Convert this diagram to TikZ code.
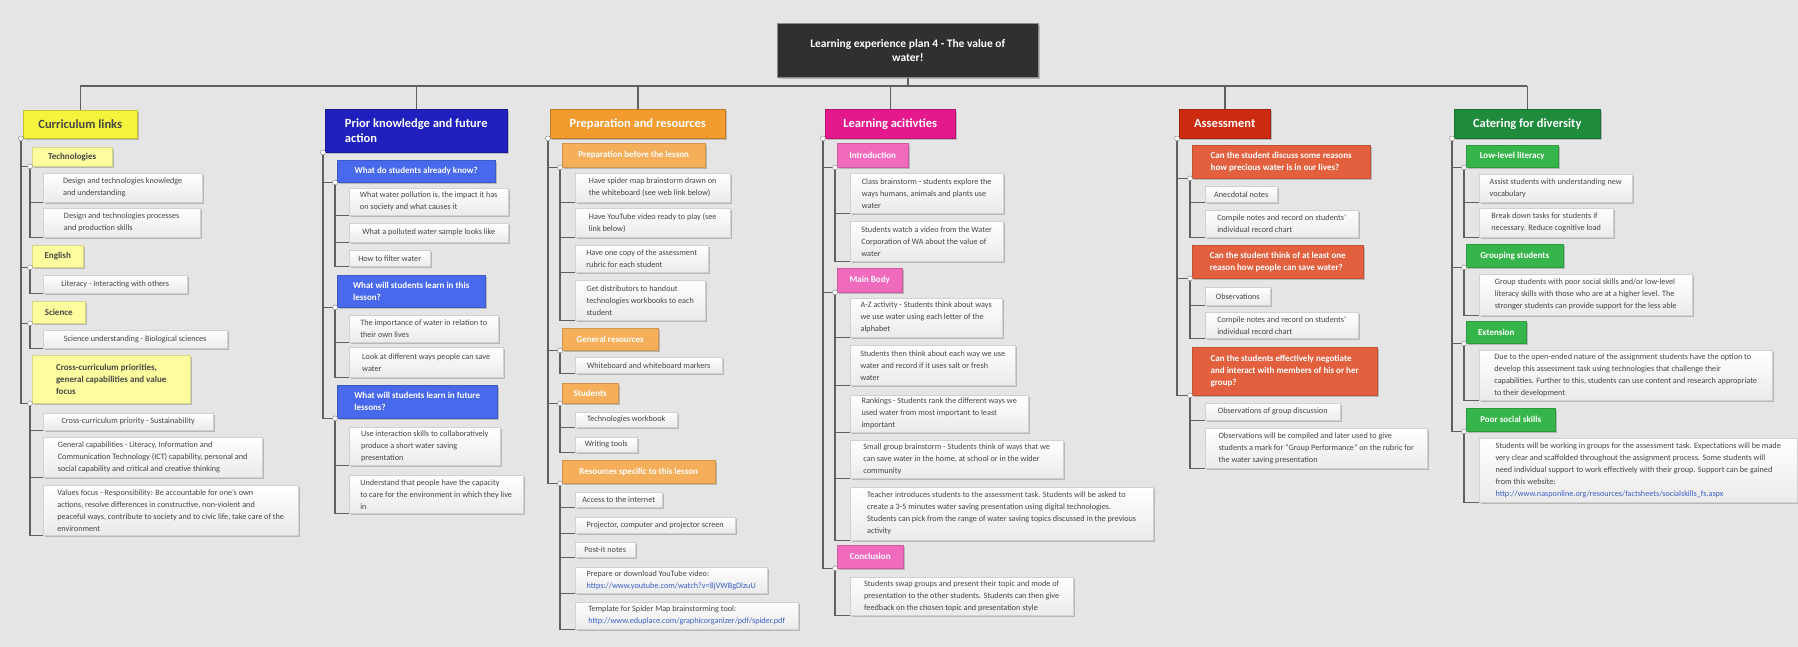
\documentclass[tikz,border=0pt]{standalone}
\usepackage{fontspec}
\setmainfont{Carlito}
\usetikzlibrary{shadows}
\definecolor{bgc}{RGB}{229,229,229}
\definecolor{txt}{RGB}{70,70,70}
\definecolor{lines}{RGB}{95,95,95}
\definecolor{linkc}{RGB}{60,95,200}
\definecolor{ttl}{RGB}{48,48,48}
\definecolor{yel0}{RGB}{244,244,60}
\definecolor{yel1}{RGB}{253,253,160}
\definecolor{blu0}{RGB}{32,32,190}
\definecolor{blu1}{RGB}{72,105,236}
\definecolor{org0}{RGB}{242,155,46}
\definecolor{org1}{RGB}{245,175,90}
\definecolor{pnk0}{RGB}{229,25,140}
\definecolor{pnk1}{RGB}{240,106,190}
\definecolor{red0}{RGB}{204,43,16}
\definecolor{red1}{RGB}{227,96,63}
\definecolor{grn0}{RGB}{30,140,59}
\definecolor{grn1}{RGB}{54,181,74}
\tikzset{
  base/.style={anchor=north west, align=left, inner xsep=5pt, inner ysep=2pt,
    drop shadow={shadow xshift=1.5pt, shadow yshift=-1.5pt, fill=black, opacity=0.2}},
  leaf/.style={base, draw=black!18, line width=0.4pt, top color=white, bottom color=black!8,
    text=txt, font=\fontsize{8.2}{12}\selectfont},
  lvone/.style={base, fill=#1, draw=#1!85!black, line width=0.4pt, text=white,
    font=\fontsize{9}{12}\selectfont\bfseries},
  lvzero/.style={base, fill=#1, draw=#1!80!black, line width=0.5pt, text=white,
    font=\fontsize{12.5}{15}\selectfont\bfseries},
  titlebox/.style={base, align=center, fill=ttl, draw=black!45, line width=0.6pt, text=white,
    font=\fontsize{11.5}{14}\selectfont\bfseries},
  conn/.style={draw=lines, line width=1.5pt},
  knob/.style={fill=white, draw=black!45, line width=0.5pt},
}
\newcommand\Nd[7]{\node[#1,minimum width=#5pt,minimum height=#6pt] (#2) at (#3,#4) {#7};}
\begin{document}
\begin{tikzpicture}[x=1pt,y=-1pt]
\fill[bgc] (0,0) rectangle (1798,647);
\useasboundingbox (0,0) rectangle (1798,647);

% title
\Nd{titlebox}{title}{777}{23}{261}{54}{Learning experience plan 4 - The value of\\water!}

% column 1
\Nd{lvzero=yel0,text=txt}{c1}{23}{110}{114}{28}{Curriculum links}
\Nd{lvone=yel1,text=txt}{c1a}{32}{147}{80}{19}{Technologies}
\Nd{leaf}{c1a1}{43}{173}{159}{29}{Design and technologies knowledge\\and understanding}
\Nd{leaf}{c1a2}{43}{208}{157}{29}{Design and technologies processes\\and production skills}
\Nd{lvone=yel1,text=txt}{c1b}{32}{245}{51}{22}{English}
\Nd{leaf}{c1b1}{43}{275}{144}{18}{Literacy - Interacting with others}
\Nd{lvone=yel1,text=txt}{c1c}{32}{301}{53}{22}{Science}
\Nd{leaf}{c1c1}{43}{330}{184}{18}{Science understanding - Biological sciences}
\Nd{lvone=yel1,text=txt}{c1d}{32}{355}{158}{48}{Cross-curriculum priorities,\\general capabilities and value\\focus}
\Nd{leaf}{c1d1}{43}{413}{170}{17}{Cross-curriculum priority - Sustainability}
\Nd{leaf}{c1d2}{43}{437}{219}{40}{General capabilities - Literacy, Information and\\Communication Technology (ICT) capability, personal and\\social capability and critical and creative thinking}
\Nd{leaf}{c1d3}{43}{485}{255}{50}{Values focus - Responsibility: Be accountable for one's own\\actions, resolve differences in constructive, non-violent and\\peaceful ways, contribute to society and to civic life, take care of the\\environment}

% column 2
\Nd{lvzero=blu0}{c2}{325}{109}{182}{43}{Prior knowledge and future\\action}
\Nd{lvone=blu1}{c2a}{337}{160}{158}{22}{What do students already know?}
\Nd{leaf}{c2a1}{349}{188}{159}{27}{What water pollution is, the impact it has\\on society and what causes it}
\Nd{leaf}{c2a2}{349}{223}{159}{19}{What a polluted water sample looks like}
\Nd{leaf}{c2a3}{349}{250}{81}{16}{How to filter water}
\Nd{lvone=blu1}{c2b}{337}{275}{148}{32}{What will students learn in this\\lesson?}
\Nd{leaf}{c2b1}{349}{315}{149}{27}{The importance of water in relation to\\their own lives}
\Nd{leaf}{c2b2}{349}{347}{154}{30}{Look at different ways people can save\\water}
\Nd{lvone=blu1}{c2c}{337}{385}{160}{33}{What will students learn in future\\lessons?}
\Nd{leaf}{c2c1}{349}{427}{151}{38}{Use interaction skills to collaboratively\\produce a short water saving\\presentation}
\Nd{leaf}{c2c2}{349}{475}{174}{38}{Understand that people have the capacity\\to care for the environment in which they live\\in}

% column 3
\Nd{lvzero=org0}{c3}{550}{109}{175}{29}{Preparation and resources}
\Nd{lvone=org1}{c3a}{562}{143}{143}{24}{Preparation before the lesson}
\Nd{leaf}{c3a1}{575}{173}{155}{29}{Have spider map brainstorm drawn on\\the whiteboard (see web link below)}
\Nd{leaf}{c3a2}{575}{208}{155}{29}{Have YouTube video ready to play (see\\link below)}
\Nd{leaf}{c3a3}{575}{245}{133}{27}{Have one copy of the assessment\\rubric for each student}
\Nd{leaf}{c3a4}{575}{280}{130}{40}{Get distributors to handout\\technologies workbooks to each\\student}
\Nd{lvone=org1}{c3b}{562}{328}{96}{22}{General resources}
\Nd{leaf}{c3b1}{575}{357}{147}{16}{Whiteboard and whiteboard markers}
\Nd{lvone=org1}{c3c}{562}{383}{56}{20}{Students}
\Nd{leaf}{c3c1}{575}{412}{102}{15}{Technologies workbook}
\Nd{leaf}{c3c2}{575}{437}{62}{15}{Writing tools}
\Nd{lvone=org1}{c3d}{562}{460}{153}{23}{Resources specific to this lesson}
\Nd{leaf}{c3d1}{575}{492}{87}{15}{Access to the internet}
\Nd{leaf}{c3d2}{575}{517}{160}{16}{Projector, computer and projector screen}
\Nd{leaf}{c3d3}{575}{542}{60}{15}{Post-it notes}
\Nd{leaf}{c3d4}{575}{567}{192}{26}{Prepare or download YouTube video:\\{\color{linkc}https://www.youtube.com/watch?v=8jVWBgDlzuU}}
\Nd{leaf}{c3d5}{575}{602}{223}{27}{Template for Spider Map brainstorming tool:\\{\color{linkc}http://www.eduplace.com/graphicorganizer/pdf/spider.pdf}}

% column 4
\Nd{lvzero=pnk0}{c4}{825}{109}{130}{29}{Learning acitivties}
\Nd{lvone=pnk1}{c4a}{837}{143}{71}{24}{Introduction}
\Nd{leaf}{c4a1}{850}{173}{153}{40}{Class brainstorm - students explore the\\ways humans, animals and plants use\\water}
\Nd{leaf}{c4a2}{850}{221}{153}{40}{Students watch a video from the Water\\Corporation of WA about the value of\\water}
\Nd{lvone=pnk1}{c4b}{837}{268}{65}{24}{Main Body}
\Nd{leaf}{c4b1}{850}{298}{152}{39}{A-Z activity - Students think about ways\\we use water using each letter of the\\alphabet}
\Nd{leaf}{c4b2}{850}{345}{165}{40}{Students then think about each way we use\\water and record if it uses salt or fresh\\water}
\Nd{leaf}{c4b3}{850}{395}{178}{37}{Rankings - Students rank the different ways we\\used water from most important to least\\important}
\Nd{leaf}{c4b4}{850}{440}{213}{38}{Small group brainstorm - Students think of ways that we\\can save water in the home, at school or in the wider\\community}
\Nd{leaf}{c4b5}{850}{487}{303}{53}{Teacher introduces students to the assessment task. Students will be asked to\\create a 3-5 minutes water saving presentation using digital technologies.\\Students can pick from the range of water saving topics discussed in the previous\\activity}
\Nd{lvone=pnk1}{c4c}{837}{545}{66}{23}{Conclusion}
\Nd{leaf}{c4c1}{850}{577}{223}{38}{Students swap groups and present their topic and mode of\\presentation to the other students. Students can then give\\feedback on the chosen topic and presentation style}

% column 5
\Nd{lvzero=red0}{c5}{1179}{109}{91}{29}{Assessment}
\Nd{lvone=red1}{c5a}{1192}{145}{178}{33}{Can the student discuss some reasons\\how precious water is in our lives?}
\Nd{leaf}{c5a1}{1205}{186}{72}{16}{Anecdotal notes}
\Nd{leaf}{c5a2}{1205}{210}{153}{27}{Compile notes and record on students'\\individual record chart}
\Nd{lvone=red1}{c5b}{1192}{245}{171}{33}{Can the student think of at least one\\reason how people can save water?}
\Nd{leaf}{c5b1}{1205}{287}{65}{18}{Observations}
\Nd{leaf}{c5b2}{1205}{312}{153}{26}{Compile notes and record on students'\\individual record chart}
\Nd{lvone=red1}{c5c}{1192}{347}{185}{48}{Can the students effectively negotiate\\and interact with members of his or her\\group?}
\Nd{leaf}{c5c1}{1205}{403}{135}{17}{Observations of group discussion}
\Nd{leaf}{c5c2}{1205}{428}{222}{40}{Observations will be compiled and later used to give\\students a mark for ``Group Performance'' on the rubric for\\the water saving presentation}

% column 6
\Nd{lvzero=grn0}{c6}{1454}{109}{146}{29}{Catering for diversity}
\Nd{lvone=grn1}{c6a}{1466}{145}{92}{22}{Low-level literacy}
\Nd{leaf}{c6a1}{1479}{174}{153}{28}{Assist students with understanding new\\vocabulary}
\Nd{leaf}{c6a2}{1479}{208}{134}{29}{Break down tasks for students if\\necessary. Reduce cognitive load}
\Nd{lvone=grn1}{c6b}{1466}{244}{97}{23}{Grouping students}
\Nd{leaf}{c6b1}{1479}{274}{213}{41}{Group students with poor social skills and/or low-level\\literacy skills with those who are at a higher level. The\\stronger students can provide support for the less able}
\Nd{lvone=grn1}{c6c}{1466}{321}{60}{22}{Extension}
\Nd{leaf}{c6c1}{1479}{350}{293}{50}{Due to the open-ended nature of the assignment students have the option to\\develop this assessment task using technologies that challenge their\\capabilities. Further to this, students can use content and research appropriate\\to their development}
\Nd{lvone=grn1}{c6d}{1466}{408}{89}{23}{Poor social skills}
\Nd{leaf}{c6d1}{1479}{438}{318}{64}{Students will be working in groups for the assessment task. Expectations will be made\\very clear and scaffolded throughout the assignment process. Some students will\\need individual support to work effectively with their group. Support can be gained\\from this website:\\{\color{linkc}http://www.nasponline.org/resources/factsheets/socialskills\_fs.aspx}}

% trunk
\coordinate (bar) at (907,86);
\draw[conn] (title.south) -- (title.south |- bar);
\draw[conn] (c1.north |- bar) -- (c6.north |- bar);
\foreach \n in {c1,c2,c3,c4,c5,c6} \draw[conn] (\n.north) -- (\n.north |- bar);

% branches
\foreach \p/\c in {c1/c1a,c1/c1b,c1/c1c,c1/c1d,c1a/c1a1,c1a/c1a2,c1b/c1b1,c1c/c1c1,c1d/c1d1,c1d/c1d2,c1d/c1d3,
  c2/c2a,c2/c2b,c2/c2c,c2a/c2a1,c2a/c2a2,c2a/c2a3,c2b/c2b1,c2b/c2b2,c2c/c2c1,c2c/c2c2,
  c3/c3a,c3/c3b,c3/c3c,c3/c3d,c3a/c3a1,c3a/c3a2,c3a/c3a3,c3a/c3a4,c3b/c3b1,c3c/c3c1,c3c/c3c2,
  c3d/c3d1,c3d/c3d2,c3d/c3d3,c3d/c3d4,c3d/c3d5,
  c4/c4a,c4/c4b,c4/c4c,c4a/c4a1,c4a/c4a2,c4b/c4b1,c4b/c4b2,c4b/c4b3,c4b/c4b4,c4b/c4b5,c4c/c4c1,
  c5/c5a,c5/c5b,c5/c5c,c5a/c5a1,c5a/c5a2,c5b/c5b1,c5b/c5b2,c5c/c5c1,c5c/c5c2,
  c6/c6a,c6/c6b,c6/c6c,c6/c6d,c6a/c6a1,c6a/c6a2,c6b/c6b1,c6c/c6c1,c6d/c6d1}
  \draw[conn] ([xshift=-2pt]\p.south west) |- (\c.south west);

\foreach \p in {c1,c1a,c1b,c1c,c1d,c2,c2a,c2b,c2c,c3,c3a,c3b,c3c,c3d,c4,c4a,c4b,c4c,c5,c5a,c5b,c5c,c6,c6a,c6b,c6c,c6d}
  \filldraw[knob] ([xshift=-2pt]\p.south west) circle (2.5pt);
\end{tikzpicture}
\end{document}
